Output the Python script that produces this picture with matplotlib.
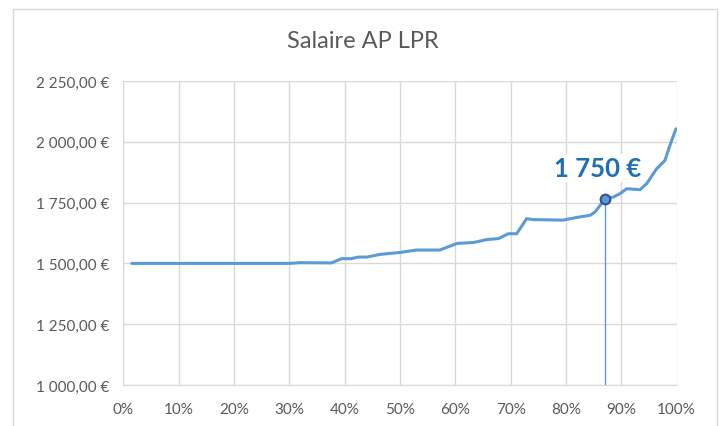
import matplotlib

matplotlib.use("Agg")

import matplotlib.pyplot as plt
from matplotlib.lines import Line2D
from matplotlib.ticker import FuncFormatter

plt.rcParams["font.family"] = ["Lato", "DejaVu Sans"]

# percentile of agents (%) and monthly salary (EUR)
percentiles = [1.5, 10, 20, 30, 31.9, 37.6, 39.5, 41, 42.5, 44, 46.4, 50, 53, 57.2,
               60.3, 63.3, 65.7, 67.8, 69.6, 71.1, 72.9, 74.1, 79.5, 82, 84.4, 85.3,
               87.1, 88.6, 89.8, 91, 93.4, 94.6, 96.4, 97.9, 98.8, 99.9]
salaries = [1500, 1500, 1500, 1500, 1503, 1502, 1520, 1519, 1526, 1526, 1537, 1545, 1555, 1555,
            1582, 1586, 1598, 1602, 1622, 1622, 1684, 1680, 1678, 1689, 1698, 1712,
            1766, 1773, 1787, 1807, 1803, 1828, 1889, 1923, 1985, 2053]

marker_pct = 87.1
marker_value = 1766
marker_label = "1 750 €"

x_ticks = list(range(0, 101, 10))
y_ticks = [1000, 1250, 1500, 1750, 2000, 2250]

grey_text = "#595959"
grid_color = "#d9d9d9"
line_color = "#5b9bd5"


def euro(v, _pos=None):
    whole = f"{v:,.2f}".replace(",", " ").replace(".", ",")
    return f"{whole} €"


fig = plt.figure(figsize=(7.22, 4.27), dpi=100)
ax = fig.add_axes([0.171, 0.096, 0.766, 0.712])

ax.plot(percentiles, salaries, color=line_color, linewidth=2.2, solid_capstyle="round",
        solid_joinstyle="round", zorder=3)
ax.plot([marker_pct, marker_pct], [y_ticks[0], marker_value], color=line_color, linewidth=1.0, zorder=2)
ax.plot([marker_pct], [marker_value], marker="o", markersize=7, markerfacecolor=line_color,
        markeredgecolor="#2f528f", markeredgewidth=1.5, zorder=4)
ax.text(marker_pct - 1.4, marker_value + 128, marker_label, ha="center", va="center",
        fontsize=18.5, fontweight="bold", color="#1f6fb6", zorder=5,
        bbox=dict(facecolor="white", edgecolor="none", pad=1.5))

ax.set_xlim(0, 100)
ax.set_ylim(y_ticks[0], y_ticks[-1])
ax.set_xticks(x_ticks)
ax.set_xticklabels([f"{t}%" for t in x_ticks])
ax.set_yticks(y_ticks)
ax.yaxis.set_major_formatter(FuncFormatter(euro))
ax.grid(color=grid_color, linewidth=1.0)
ax.set_axisbelow(True)
for side in ["top", "right"]:
    ax.spines[side].set_visible(False)
for side in ["left", "bottom"]:
    ax.spines[side].set_color(grid_color)
ax.tick_params(length=0, labelsize=11, colors=grey_text, pad=10)
ax.tick_params(axis="x", pad=12)

fig.text(0.503, 1 - 41 / 427, "Salaire AP LPR", ha="center", va="center", fontsize=17, color=grey_text)

# chart area border (open at the bottom, as in the source crop)
x0, x1, y0 = 12.5 / 722, 716.5 / 722, 1 - 9.5 / 427
for xs, ys in [([x0, x0], [0, y0]), ([x1, x1], [0, y0]), ([x0, x1], [y0, y0])]:
    fig.add_artist(Line2D(xs, ys, transform=fig.transFigure, color="#d9d9d9", linewidth=1.0))

fig.savefig("out.png", dpi=100)
